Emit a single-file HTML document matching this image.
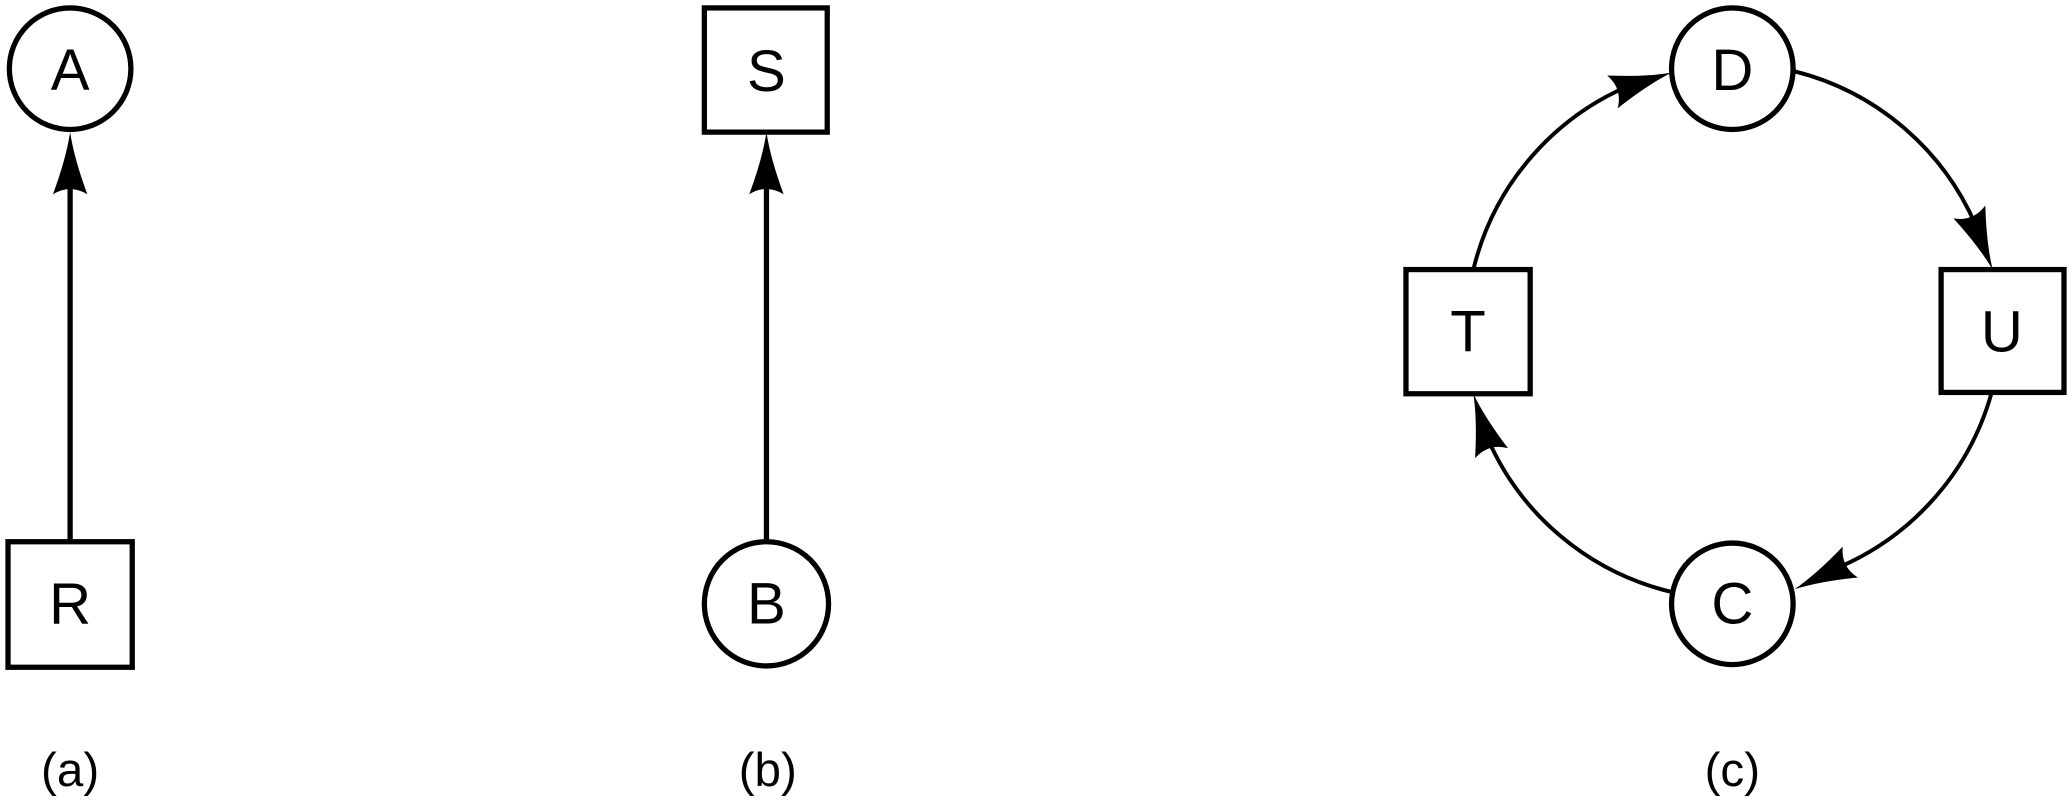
<!DOCTYPE html>
<html><head><meta charset="utf-8"><style>
html,body{margin:0;padding:0;background:#fff;}
svg{display:block}
text{font-family:"Liberation Sans",sans-serif;fill:#000}
</style></head><body>
<svg width="2072" height="806" viewBox="0 0 1568 610" xmlns="http://www.w3.org/2000/svg">
<defs>
<path id="ah" d="M0,0 Q-20,-3 -47,-13 Q-39,0 -47,13 Q-20,3 0,0 Z" fill="#000"/>
</defs>
<g fill="none" stroke="#000" stroke-width="4">
<circle cx="53" cy="52" r="46"/>
<rect x="6" y="410" width="94" height="95"/>
<line x1="53" y1="410" x2="53" y2="130"/>
<rect x="533" y="6" width="93" height="94"/>
<circle cx="580" cy="457" r="47"/>
<line x1="580" y1="410" x2="580" y2="130"/>
<circle cx="1311" cy="52" r="46"/>
<rect x="1469" y="204" width="93" height="93"/>
<circle cx="1311" cy="457" r="46"/>
<rect x="1064" y="204" width="94" height="94"/>
<path d="M1115,204 A203,203 0 0 1 1240,62" stroke-width="3"/>
<path d="M1358,54 A203,203 0 0 1 1495,170" stroke-width="3"/>
<path d="M1507,298 A203,203 0 0 1 1385,432" stroke-width="3"/>
<path d="M1265,448 A203,203 0 0 1 1125,330" stroke-width="3"/>
</g>
<use href="#ah" transform="translate(53,100) rotate(-90)"/>
<use href="#ah" transform="translate(580,100) rotate(-90)"/>
<use href="#ah" transform="translate(1265,55) rotate(-18)"/>
<use href="#ah" transform="translate(1508,204) rotate(68)"/>
<use href="#ah" transform="translate(1358,446) rotate(154)"/>
<use href="#ah" transform="translate(1115,298) rotate(253)"/>
<g font-size="44" text-anchor="middle">
<text x="53" y="68">A</text>
<text x="53" y="472">R</text>
<text x="580" y="69">S</text>
<text x="580" y="472">B</text>
<text x="1311" y="68">D</text>
<text x="1515" y="266">U</text>
<text x="1311" y="472">C</text>
<text x="1111" y="266">T</text>
</g>
<g font-size="36" text-anchor="middle">
<text x="53" y="595">(a)</text>
<text x="581" y="595">(b)</text>
<text x="1311" y="595">(c)</text>
</g>
</svg>
</body></html>
